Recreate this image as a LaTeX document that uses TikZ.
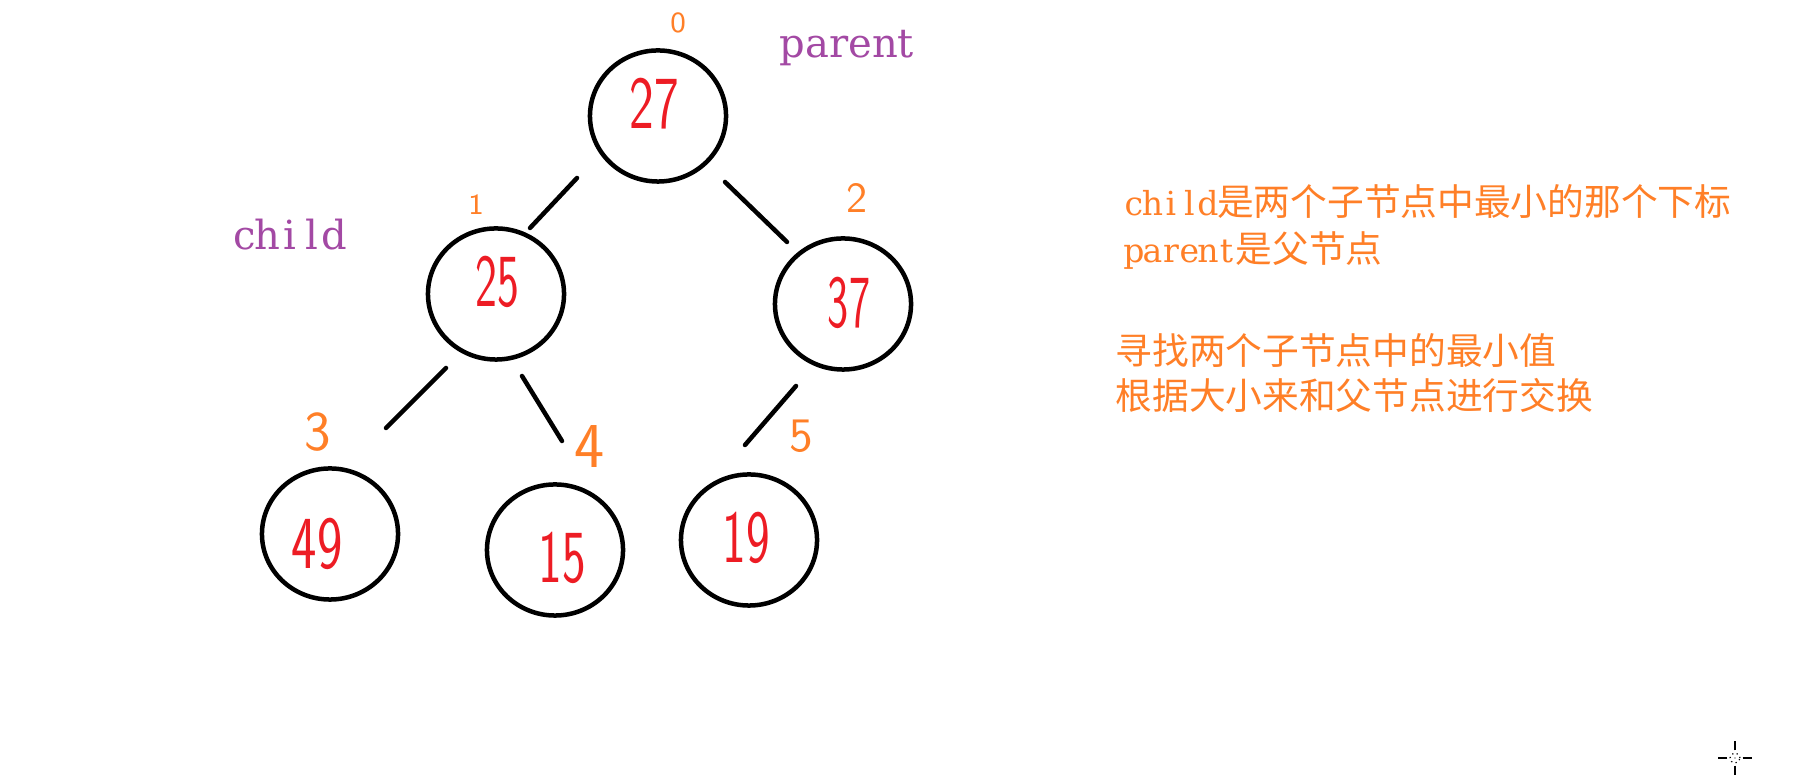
\documentclass[tikz,border=0pt]{standalone}
\usepackage{fontspec}
\usepackage{graphicx}
\usetikzlibrary{shapes.geometric}
\newfontfamily\cjk{Noto Sans CJK SC}
\newfontfamily\serifl{DejaVu Serif}
\definecolor{pred}{HTML}{ED1C24}
\definecolor{porange}{HTML}{FF7F27}
\definecolor{ppurple}{HTML}{A349A4}
\newlength\hwwd
\def\hwrun#1{\ifx#1\relax\else\makebox[\hwwd]{#1}\expandafter\hwrun\fi}
\newcommand\latrun[1]{{\serifl\fontsize{9.4pt}{9.4pt}\selectfont\setlength\hwwd{0.185cm}\hwrun#1\relax}}
\tikzset{
  heapnode/.style={ellipse, draw=black, line width=0.045cm, minimum width=1.36cm, minimum height=1.31cm, inner sep=0pt, outer sep=0pt},
  heapedge/.style={draw=black, line width=0.045cm, line cap=round},
  val/.style={text=pred, inner sep=0pt, font=\sffamily\fontsize{21.3pt}{21.3pt}\selectfont},
  idx/.style={text=porange, inner sep=0pt, font=\sffamily\fontsize{#1}{#1}\selectfont},
  tag/.style={text=ppurple, inner sep=0pt, anchor=base west, font=\serifl\fontsize{11.4pt}{11.4pt}\selectfont},
  note/.style={text=porange, inner sep=0pt, anchor=base west, font=\cjk\fontsize{10.44pt}{10.44pt}\selectfont},
  cursorline/.style={draw=black, line width=0.012cm}
}
\begin{document}
\begin{tikzpicture}[x=0.01cm,y=-0.01cm]
\useasboundingbox[fill=white] (0,0) rectangle (1818,777);
% heap nodes
\node[heapnode] (n0) at (658,116) {};
\node[heapnode] (n1) at (496,294) {};
\node[heapnode] (n2) at (843,304) {};
\node[heapnode] (n3) at (330,534) {};
\node[heapnode] (n4) at (555,550) {};
\node[heapnode] (n5) at (749,540) {};
% values
\node[val] (v0) at (654,104) {\scalebox{0.7}[1]{27}};
\node[val] (v1) at (497,282) {\scalebox{0.62}[1]{25}};
\node[val] (v2) at (849,303) {\scalebox{0.6}[1]{37}};
\node[val] (v3) at (317,544) {\scalebox{0.72}[1]{49}};
\node[val] (v4) at (562,558) {\scalebox{0.67}[1]{15}};
\node[val] (v5) at (746,538) {\scalebox{0.67}[1]{19}};
% indices
\node[idx=8.3pt] (i0) at (678,23) {0};
\node[idx=8.3pt] (i1) at (476,205) {1};
\node[idx=12.2pt] (i2) at (857,198) {2};
\node[idx=16pt] (i3) at (318,432) {3};
\node[idx=18.2pt] (i4) at (590,447) {4};
\node[idx=13.7pt] (i5) at (801,436) {5};
% connector end points (the lines stop short of the circles)
\coordinate (e01a) at (577,178); \coordinate (e01b) at (530,228);
\coordinate (e02a) at (725,182); \coordinate (e02b) at (787,242);
\coordinate (e13a) at (446,368); \coordinate (e13b) at (386,428);
\coordinate (e14a) at (522,376); \coordinate (e14b) at (562,441);
\coordinate (e25a) at (796,386); \coordinate (e25b) at (745,445);
\draw[heapedge] (e01a) -- (e01b);
\draw[heapedge] (e02a) -- (e02b);
\draw[heapedge] (e13a) -- (e13b);
\draw[heapedge] (e14a) -- (e14b);
\draw[heapedge] (e25a) -- (e25b);
% purple tags
\node[tag] (tparent) at (779,58) {parent};
\node[tag] (tchild) at (233,250) {\setlength\hwwd{0.224cm}\hwrun child\relax};
% notes
\node[note] (t1) at (1124,215.5) {\latrun{child}是两个子节点中最小的那个下标};
\node[note] (t2) at (1124,262.5) {\latrun{parent}是父节点};
\node[note] (t3) at (1115,364.5) {寻找两个子节点中的最小值};
\node[note] (t4) at (1115,409.5) {根据大小来和父节点进行交换};
% cursor mark
\node[circle, draw=black, densely dotted, line width=0.012cm, minimum size=0.1cm, inner sep=0pt] (cur) at (1735,758) {};
\fill (cur.center) circle (0.6);
\draw[cursorline] ([xshift=-0.02cm]cur.west) -- ++(-9,0);
\draw[cursorline] ([xshift=0.02cm]cur.east) -- ++(9,0);
\draw[cursorline] ([yshift=0.02cm]cur.north) -- ++(0,-9);
\draw[cursorline] ([yshift=-0.02cm]cur.south) -- ++(0,9);
\end{tikzpicture}
\end{document}
